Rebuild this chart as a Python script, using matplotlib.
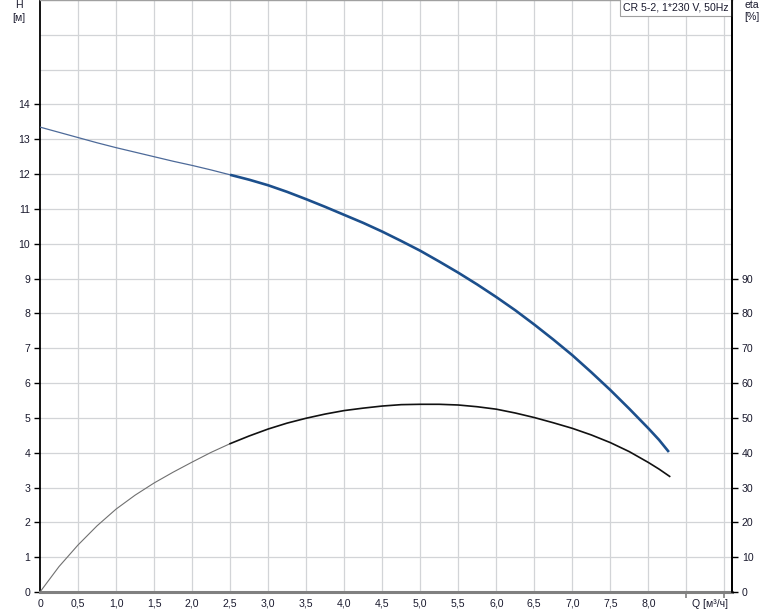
import matplotlib
matplotlib.use("Agg")
import matplotlib.pyplot as plt
from matplotlib.ticker import FixedLocator

plt.rcParams['font.family'] = ['Liberation Sans', 'DejaVu Sans']

# ---- data ----
q_h = [0.0, 0.25, 0.5, 0.75, 1.0, 1.25, 1.5, 1.75, 2.0, 2.25, 2.5, 2.75, 3.0, 3.25, 3.5, 3.75,
       4.0, 4.25, 4.5, 4.75, 5.0, 5.25, 5.5, 5.75, 6.0, 6.25, 6.5, 6.75, 7.0, 7.25, 7.5, 7.75,
       8.0, 8.14, 8.27]
h_vals = [13.35, 13.20, 13.05, 12.90, 12.76, 12.63, 12.50, 12.37, 12.25, 12.12, 11.98, 11.84,
          11.68, 11.49, 11.28, 11.06, 10.83, 10.60, 10.35, 10.08, 9.80, 9.49, 9.17, 8.83,
          8.47, 8.09, 7.68, 7.25, 6.80, 6.31, 5.80, 5.26, 4.70, 4.37, 4.02]

q_eta = [0.0, 0.25, 0.5, 0.75, 1.0, 1.25, 1.5, 1.75, 2.0, 2.25, 2.5, 2.75, 3.0, 3.25, 3.5, 3.75,
         4.0, 4.25, 4.5, 4.75, 5.0, 5.25, 5.5, 5.75, 6.0, 6.25, 6.5, 6.75, 7.0, 7.25, 7.5, 7.75,
         8.0, 8.14, 8.28]
eta_vals = [0.0, 7.3, 13.5, 19.0, 23.8, 27.8, 31.3, 34.4, 37.3, 40.1, 42.6, 44.8, 46.8, 48.5,
            49.9, 51.1, 52.1, 52.8, 53.4, 53.8, 53.9, 53.9, 53.7, 53.2, 52.5, 51.4, 50.1, 48.6,
            47.0, 45.1, 42.9, 40.3, 37.2, 35.3, 33.2]

q_split = 2.5  # start of the thick (recommended) segment

x_tick_vals = [0, 0.5, 1.0, 1.5, 2.0, 2.5, 3.0, 3.5, 4.0, 4.5, 5.0, 5.5, 6.0, 6.5, 7.0, 7.5, 8.0]
x_tick_labels = ["0", "0,5", "1,0", "1,5", "2,0", "2,5", "3,0", "3,5", "4,0", "4,5",
                 "5,0", "5,5", "6,0", "6,5", "7,0", "7,5", "8,0"]
h_ticks = list(range(0, 15))
eta_ticks = list(range(0, 100, 10))
title_text = "CR 5-2, 1*230 V, 50Hz"

# ---- figure ----
W, H = 774, 611
fs = 7.6
txt_c = "#1a1a2e"
fig = plt.figure(figsize=(W / 100, H / 100), dpi=100)
ax = fig.add_axes([40 / W, 19 / H, (732 - 40) / W, (592 - 0) / H])
ax.set_xlim(0, 9.1)
ax.set_ylim(0, 17)

grid_c = "#d2d4d7"
for gx in [0.5 * i for i in range(1, 19)]:
    ax.axvline(gx, color=grid_c, lw=0.9, zorder=0)
for gy in range(1, 17):
    ax.axhline(gy, color=grid_c, lw=0.9, zorder=0)

# H curve
i_s = q_h.index(q_split)
ax.plot(q_h[:i_s + 1], h_vals[:i_s + 1], color="#4d6a99", lw=0.9, zorder=3)
ax.plot(q_h[i_s:], h_vals[i_s:], color="#1c4f8c", lw=1.9, zorder=3,
        solid_capstyle="butt")

# eta curve (plotted on H scale, eta/10)
j_s = q_eta.index(q_split)
eta_h = [e / 10 for e in eta_vals]
ax.plot(q_eta[:j_s + 1], eta_h[:j_s + 1], color="#707070", lw=0.8, zorder=3)
ax.plot(q_eta[j_s:], eta_h[j_s:], color="#111111", lw=1.2, zorder=3)

# spines
for s in ["left", "right"]:
    ax.spines[s].set_color("black")
    ax.spines[s].set_linewidth(1.3)
ax.spines["bottom"].set_color("#808080")
ax.spines["bottom"].set_linewidth(2.2)
ax.spines["top"].set_color("#a0a0a0")
ax.spines["top"].set_linewidth(1.0)

# x ticks
ax.set_xticks(x_tick_vals)
ax.set_xticklabels(x_tick_labels, fontsize=fs, color=txt_c)
ax.tick_params(axis="x", which="major", length=0, pad=5)
ax.xaxis.set_minor_locator(FixedLocator([8.5, 9.0]))
ax.tick_params(axis="x", which="minor", length=4, width=1.2, color="#808080")

# y ticks left
ax.set_yticks(h_ticks)
ax.set_yticklabels([str(v) for v in h_ticks], fontsize=fs, color=txt_c)
ax.tick_params(axis="y", which="major", length=4, width=1, color="black", pad=3)

# right axis eta
ax2 = ax.twinx()
ax2.set_ylim(0, 170)
ax2.set_yticks(eta_ticks)
ax2.set_yticklabels([str(v) for v in eta_ticks], fontsize=fs, color=txt_c)
ax2.tick_params(axis="y", length=4, width=1, color="black", pad=3)
for s in ["left", "top", "bottom"]:
    ax2.spines[s].set_visible(False)
ax2.spines["right"].set_color("black")
ax2.spines["right"].set_linewidth(1.3)

# axis titles
fig.text(19 / W, 1 - 5 / H, "H", fontsize=fs, ha="center", va="center", color=txt_c)
fig.text(19 / W, 1 - 18 / H, "[м]", fontsize=fs, ha="center", va="center", color=txt_c)
fig.text(752 / W, 1 - 5 / H, "eta", fontsize=fs, ha="center", va="center", color=txt_c)
fig.text(752 / W, 1 - 17 / H, "[%]", fontsize=fs, ha="center", va="center", color=txt_c)
fig.text(710 / W, 1 - 604 / H, "Q [м³/ч]", fontsize=fs, ha="center", va="center", color=txt_c)

# title box
ax.text(0.9955, 0.9955, title_text, transform=ax.transAxes, fontsize=fs, ha="right", va="top",
        color=txt_c, zorder=5,
        bbox=dict(boxstyle="square,pad=0.3", fc="white", ec="#a0a0a0", lw=0.8))

fig.savefig("out.png", dpi=100)
